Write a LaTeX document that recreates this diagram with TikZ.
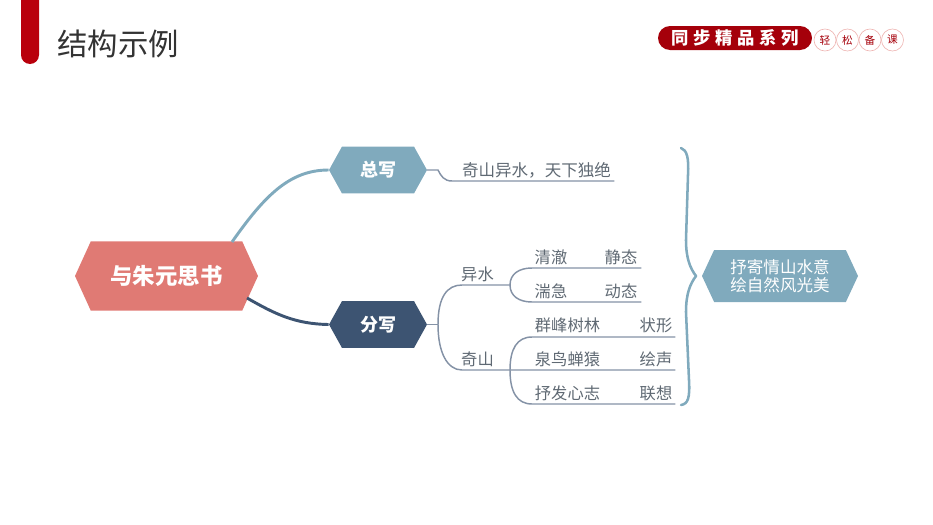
\documentclass[tikz,border=0pt]{standalone}
\usepackage{fontspec}
\setmainfont{Noto Sans CJK SC}
\usetikzlibrary{shapes.symbols}
\definecolor{cred}{RGB}{224,122,116}
\definecolor{cblue}{RGB}{128,170,189}
\definecolor{cnavy}{RGB}{61,84,114}
\definecolor{cline}{RGB}{132,146,166}
\definecolor{ctext}{RGB}{95,105,115}
\definecolor{cbrace}{RGB}{128,170,189}
\definecolor{cbar}{RGB}{185,0,12}
\definecolor{cpill}{RGB}{165,0,10}
\tikzset{
  hexn/.style={shape=signal,signal to=east and west,draw=none,inner sep=0pt,text=white,font=\fontsize{13.5}{16}\selectfont\bfseries},
  lab/.style={inner sep=0pt,text=ctext,font=\fontsize{12.2}{14}\selectfont},
  branch/.style={draw=cline,line width=1.1pt,line cap=round},
  seal/.style={circle,draw=cred!55,line width=.5pt,minimum size=16.5pt,inner sep=0pt,text=cpill,font=\fontsize{8}{9}\selectfont}
}
\begin{document}
\begin{tikzpicture}[x=0.75pt,y=-0.75pt]
\useasboundingbox (0,0) rectangle (933,525);
% header
\fill[cbar] (21,0) -- (39,0) -- (39,55) arc[start angle=0,end angle=180,radius=9] -- cycle;
\node[anchor=west,inner sep=0pt,text=black!80,font=\fontsize{22.8}{26}\selectfont] (title) at (57,44) {结构示例};
\fill[cpill] (670,26) -- (800,26) arc[start angle=-90,end angle=90,radius=12] -- (670,50) arc[start angle=90,end angle=270,radius=12] -- cycle;
\node[inner sep=0pt,text=white,font=\fontsize{13}{15}\selectfont\bfseries] (logo) at (735,38) {同\hspace{3.5pt}步\hspace{3.5pt}精\hspace{3.5pt}品\hspace{3.5pt}系\hspace{3.5pt}列};
\node[seal] (s1) at (825,40) {轻};
\node[seal] (s2) at (847.5,40) {松};
\node[seal] (s3) at (870,40) {备};
\node[seal] (s4) at (892.5,40) {课};
% hexagons
\node[hexn,fill=cred,minimum width=137.25pt,minimum height=52pt,signal pointer angle=131,font=\fontsize{16.8}{20}\selectfont\bfseries] (main) at (166.5,276) {与朱元思书};
\node[hexn,fill=cblue,minimum width=73.5pt,minimum height=35pt,signal pointer angle=122] (zong) at (378,170) {总写};
\node[hexn,fill=cnavy,minimum width=73.5pt,minimum height=35pt,signal pointer angle=122] (fen) at (378,324.5) {分写};
\node[hexn,fill=cblue,minimum width=117pt,minimum height=39pt,signal pointer angle=130,align=center,font=\fontsize{12.4}{13.5}\selectfont] (res) at (780,276) {抒寄情山水意\\绘自然风光美};
% main branches
\coordinate (mt) at (232,242);
\coordinate (mb) at (247,298);
\draw[cblue,line width=2.2pt] (mt) .. controls (265,195) and (290,170) .. (zong.west);
\draw[cnavy,line width=2.2pt] (mb) .. controls (275,314) and (295,324) .. (fen.west);
% overall
\coordinate (z1) at (614,181);
\draw[branch] (zong.east) -- (438,170) .. controls (441,176) and (444,181) .. (452,181) -- (z1);
\node[lab,font=\fontsize{12.4}{14}\selectfont] (t0) at (536.5,170) {奇山异水，天下独绝};
% fen branches
\coordinate (j) at (438,324.5);
\coordinate (a) at (510,285);
\coordinate (b) at (510,370);
\coordinate (a1) at (641,268);
\coordinate (a2) at (641,302);
\coordinate (b1) at (675,337);
\coordinate (b2) at (675,370);
\coordinate (b3) at (675,404);
\draw[branch] (fen.east) -- (j);
\draw[branch] (a) -- (462,285) .. controls (447,285) and (438,297) .. (j) .. controls (438,352) and (447,370) .. (462,370) -- (b2);
\draw[branch] (a1) -- (532,268) .. controls (519,268) and (510,274) .. (a) .. controls (510,296) and (519,302) .. (532,302) -- (a2);
\draw[branch] (b1) -- (532,337) .. controls (517,337) and (510,349) .. (b) .. controls (510,392) and (517,404) .. (532,404) -- (b3);
% labels
\node[lab] (l1) at (477.5,274) {异水};
\node[lab] (l2) at (477.5,359) {奇山};
\node[lab] (c1) at (551,257) {清澈};
\node[lab] (c2) at (621,257) {静态};
\node[lab] (c3) at (551,291) {湍急};
\node[lab] (c4) at (621,291) {动态};
\node[lab] (c5) at (567.5,325) {群峰树林};
\node[lab] (c6) at (656,325) {状形};
\node[lab] (c7) at (567.5,359) {泉鸟蝉猿};
\node[lab] (c8) at (656,359) {绘声};
\node[lab] (c9) at (567.5,393) {抒发心志};
\node[lab] (c10) at (656,393) {联想};
% brace
\coordinate (br1) at (681,148);
\coordinate (br2) at (696,276);
\coordinate (br3) at (681,405);
\draw[cbrace,line width=1.9pt,line cap=round,line join=round] (br1) .. controls (687,150) and (689,158) .. (688,175) -- (686,240) .. controls (686,258) and (690,268) .. (br2) .. controls (690,284) and (686,294) .. (686,312) -- (689,380) .. controls (690,398) and (688,404) .. (br3);
\end{tikzpicture}
\end{document}
